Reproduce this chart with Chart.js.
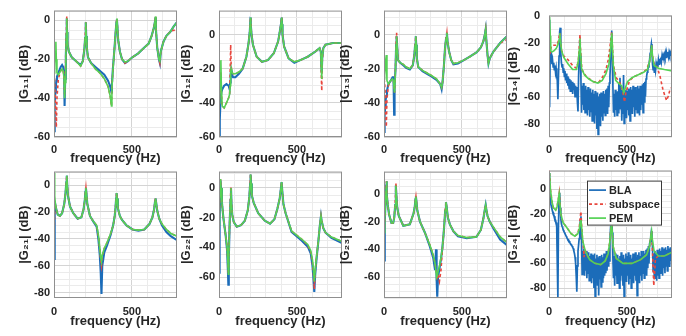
<!DOCTYPE html>
<html><head><meta charset="utf-8">
<script src="https://cdn.jsdelivr.net/npm/chart.js@4.4.0/dist/chart.umd.min.js"></script>
<style>
html,body{margin:0;padding:0;background:#fff;}
body{width:686px;height:336px;position:relative;overflow:hidden;}
canvas{position:absolute;}
</style></head><body>
<script>
// ---------------- data (frequency in Hz, magnitude in dB) ----------------
const XMAX = 790;
const BLA_STEP = 3.8; // frequency spacing of the dense BLA records of G14 and G24

const f11 = [0,3,6,9,12,15,19,28,43,52,59,65,68,72,76,80,82,84,87,95,114,142,171,185,195,200,204,207,211,218,238,266,294,323,347,361,369,372,378,388,395,401,404,407,412,423,437,456,475,503,541,580,608,627,641,648,652,655,663,674,680,686,703,722,746,770,790];
const bla11 = [-57,-48,-42,-37,-34,-31,-29,-27,-24,-23,-24,-27,-44,-30,-18,-7,1,-6,-12,-16,-19,-21,-23,-21,-15,-9,-1,-8,-14,-19,-22,-24,-26,-28,-31,-34,-37,-33,-25,-15,-7,-1,0.5,-3,-10,-16,-20,-22,-21,-19,-17,-14,-12,-8,-4,-1,1.5,-5,-14,-20,-22,-16,-11,-8,-6,-3,-1];
const sub11 = [-27,-30,-35,-42,-48,-55,-40,-30,-26,-25,-26,-30,-38,-30,-16,-5,2,-5,-12,-16,-19,-21,-23.5,-21,-15,-9,-1,-8,-14,-19,-22,-25,-27,-30,-34,-39,-44,-35,-26,-15,-7,-1,1,-3,-10,-16,-20,-22,-21,-19,-17,-14,-12,-8,-4,-1,2,-5,-14,-20,-22,-16,-11,-8,-6,-5,-6];
const pem11 = [-27,-25,-22,-16,-11,-20,-27,-28,-26,-25,-26,-30,-40,-32,-18,-7,1,-6,-12,-16,-19,-21,-23.5,-21,-15,-9,-1,-8,-14,-19,-22,-25,-27,-30,-34,-39,-44,-35,-26,-15,-7,-1,1,-3,-10,-16,-20,-21.5,-21,-19,-17,-14,-12,-8,-4,-1,2,-5,-14,-20,-21,-16,-11,-8,-6,-3,-1];

const f12 = [0,5,9,12,15,21,33,48,62,68,72,75,78,82,90,105,128,152,176,190,198,201,203,205,209,218,242,276,314,352,380,391,398,401,403,405,408,418,447,484,522,570,618,646,654,657,660,663,670,684,732,790];
const bla12 = [-59,-50,-40,-36,-34,-32,-30,-29,-30,-32,-28,-23,-21,-23,-25,-25,-23,-20,-13,-5,2,7,10,6,0,-6,-13,-16,-15,-11,-4,2,6,9,10,6,0,-7,-14,-16.5,-15,-13,-10,-8,-10,-18,-22,-14,-8,-6,-5,-5];
const sub12 = [-40,-34,-27,-22,-35,-42,-43,-40,-37,-35,-20,-6,-18,-22,-23,-23,-22,-20,-13,-5,2,7,10,6,0,-6,-13,-16,-15,-11,-4,2,6,9,10,6,0,-7,-14,-16,-15,-13,-10,-8,-10,-24,-33,-16,-8,-6,-5,-5];
const pem12 = [-40,-33,-25,-15,-30,-42,-43,-40,-37,-35,-30,-22,-20,-22,-23,-23,-22,-20,-13,-5,2,7,10,6,0,-6,-13,-16,-15,-11,-4,2,6,9,10,6,0,-7,-14,-16,-15,-13,-10,-8,-10,-20,-26,-14,-8,-6,-5,-5];

const f13 = [0,4,8,11,15,19,28,43,55,61,65,68,74,78,81,84,90,104,124,142,166,185,195,200,204,207,211,220,247,276,304,337,361,370,376,385,392,399,404,408,418,432,446,475,513,551,594,622,638,648,653,657,665,671,679,703,746,790];
const bla13 = [-57,-47,-42,-38,-36,-33,-29,-27,-25,-25,-47,-30,-20,-6,-1,-6,-15,-16.5,-18,-19.5,-20.5,-18,-12,-6,-1,-6,-14,-19,-21.5,-23,-24.5,-26.5,-29,-32,-28,-18,-8,-2,1,-4,-10,-15,-17.5,-17,-15,-13,-10.5,-7.5,-4,0,3,-3,-12,-17,-14,-10,-5,-1];
const sub13 = [-26,-28,-35,-45,-54,-38,-30,-27,-26,-27,-32,-34,-18,-4,1,-5,-15,-16.5,-17.5,-19,-20,-18,-12,-6,-1,-6,-14,-19,-21,-22.5,-24,-26,-29,-31,-28,-18,-8,-2,1,-4,-10,-15,-17,-16.5,-15,-13,-10.5,-7.5,-4,0,3,-3,-12,-17,-14,-10,-5,-3];
const pem13 = [-26,-24,-20,-15,-12,-27,-29,-27,-26,-27,-32,-34,-20,-6,-1,-6,-15,-16.5,-17.5,-19,-20,-18,-12,-6,-1,-6,-14,-19,-21,-22.5,-24,-26,-29,-31,-28,-18,-8,-2,1,-4,-10,-15,-17,-16.5,-15,-13,-10.5,-7.5,-4,0,3,-3,-12,-17,-14,-10,-5,-1];

const bla14 = [
 -3,-68,-27,-32,-30,-36,-33,-38,-35,-40,
 -37,-42,-39,-45,-48,-62,-45,-30,-12,-9,
 -28,-35,-38,-36,-42,-39,-45,-41,-48,-43,
 -50,-45,-52,-46,-54,-47,-56,-48,-53,-49,
 -58,-50,-55,-51,-60,-52,-57,-53,-64,-71,
 -45,-32,-18,-30,-48,-72,-52,-66,-50,-70,
 -54,-72,-52,-68,-55,-74,-53,-70,-56,-75,
 -54,-71,-57,-78,-55,-72,-58,-80,-56,-74,
 -59,-84,-57,-88,-60,-76,-58,-82,-57,-75,
 -60,-78,-56,-72,-58,-74,-55,-70,-54,-73,
 -52,-68,-50,-45,-35,-20,-11,-30,-52,-72,
 -58,-75,-55,-70,-57,-74,-56,-72,-50,-69,
 -46,-66,-55,-78,-58,-73,-44,-80,-57,-72,
 -55,-76,-56,-70,-54,-74,-55,-78,-53,-70,
 -55,-73,-52,-68,-54,-75,-53,-70,-55,-72,
 -52,-69,-54,-74,-52,-70,-53,-66,-51,-72,
 -50,-64,-49,-60,-47,-45,-42,-40,-38,-36,
 -33,-28,-24,-21,-26,-36,-40,-35,-42,-38,
 -41,-36,-39,-34,-38,-33,-36,-32,-35,-31,
 -34,-30,-33,-30,-32,-29,-31,-28,-31,-28,
 -30,-27,-30,-27,-29,-27,-28,-27];
const fs14 = [0,8,14,24,38,52,62,67,70,73,81,95,124,152,176,188,195,199,202,211,238,285,323,347,366,380,391,399,403,407,414,432,456,475,485,494,518,551,589,627,646,654,659,665,675,694,713,732,746,755,765,777,790];
const sub14 = [-25,-27,-23,-22,-22,-22,-18,-14,-13,-18,-26,-30,-33,-37,-39,-34,-22,-14,-24,-40,-45,-49,-49,-45,-40,-33,-24,-15,-12,-22,-37,-46,-50,-57,-64,-57,-48,-45,-43,-40,-34,-28,-22,-30,-36,-38,-45,-55,-60,-63,-60,-55,-53];
const f14 = [0,3,5,8,11,19,33,48,59,65,68,70,73,81,95,124,152,176,188,195,199,202,209,228,256,285,314,342,366,385,394,400,403,406,413,428,446,466,480,489,504,532,570,608,632,646,654,659,665,675,703,741,790];
const pem14 = [-20,-5,-1,-15,-26,-27,-26,-24,-21,-18,-14,-13,-18,-26,-31,-36,-40,-40,-34,-25,-17,-26,-39,-44,-47,-49,-50,-48,-43,-36,-27,-16,-13,-20,-37,-48,-50,-52,-57,-54,-49,-46,-44,-42,-40,-34,-28,-22,-30,-37,-39,-40,-41];

const f21 = [0,3,6,9,15,24,38,52,66,74,79,82,85,90,103,124,152,176,190,198,202,205,208,214,231,252,274,285,294,300,305,310,323,340,364,380,390,395,399,402,405,410,423,437,466,504,542,580,613,632,643,649,652,656,663,676,694,722,750,790];
const bla21 = [-55,-20,-12,-15,-18,-22,-23,-21,-14,-6,2,7,0,-8,-16,-21,-25,-24,-18,-11,-5,-2,-6,-14,-23,-27,-31,-40,-52,-65,-81,-60,-50,-45,-37,-30,-23,-17,-10,-6,-10,-17,-23,-26,-30,-33,-34,-33,-29,-24,-18,-12,-10,-13,-19,-25,-30,-35,-38,-41];
const sub21 = [-38,-25,-12,-15,-18,-22,-23,-21,-14,-6,2,7,0,-8,-16,-21,-25,-24,-18,-11,-5,-2,-6,-14,-23,-27,-30,-38,-48,-56,-60,-53,-47,-43,-36,-30,-23,-17,-10,-6,-10,-17,-23,-26,-30,-33,-33.5,-33,-29,-24,-18,-12,-10,-13,-19,-25,-29,-33,-36,-38];
const pem21 = [9,0,-8,-14,-18,-22,-23,-21,-14,-6,2,7,0,-8,-16,-21,-25,-24,-18,-11,-5,-2,-6,-14,-23,-27,-30,-37,-47,-54,-57,-52,-47,-43,-36,-30,-23,-17,-10,-6,-10,-17,-23,-26,-30,-33,-33.5,-33,-29,-24,-18,-12,-10,-13,-19,-25,-29,-33,-36,-38];

const f22 = [0,4,8,10,13,19,28,43,52,57,60,63,68,74,77,80,85,95,114,142,166,185,195,200,203,206,211,223,252,294,328,356,375,390,397,402,407,414,428,466,532,570,589,600,606,612,618,627,638,648,655,659,670,684,722,790];
const bla22 = [-57,-20,-2,5,0,-10,-20,-32,-42,-55,-65,-48,-25,-8,0,-10,-18,-23,-26,-25,-22,-15,-6,3,9,3,-5,-10,-17,-22,-24,-21,-14,-7,-1,4,-3,-11,-17,-29.5,-35.5,-39.5,-44,-52,-60,-70,-58,-47,-36,-25,-19,-22,-27,-30,-33.5,-37];
const sub22 = [-25,-10,0,6,0,-10,-20,-32,-40,-50,-58,-45,-25,-6,1,-10,-18,-23,-26,-25,-22,-15,-6,3,9,3,-5,-10,-17,-22,-24,-21,-14,-7,-1,4,-3,-11,-17,-29,-34.5,-38.5,-43,-50,-57,-68,-56,-46,-36,-25,-19,-22,-27,-30,-33,-36];
const pem22 = [-25,-10,0,6,0,-10,-20,-32,-40,-50,-58,-45,-25,-8,0,-10,-18,-23,-26,-25,-22,-15,-6,3,9,3,-5,-10,-17,-22,-24,-21,-14,-7,-1,4,-3,-11,-17,-29,-34.5,-38,-42,-48,-54,-63,-55,-46,-36,-25,-19,-22,-27,-30,-33,-36];

const f23 = [0,5,9,13,16,19,24,33,48,59,66,72,75,77,80,85,95,124,166,190,198,202,205,208,214,231,263,295,316,328,334,338,342,347,356,366,374,382,388,393,398,403,410,423,446,475,532,594,622,638,648,653,657,665,679,703,746,790];
const bla23 = [-48,-20,-8,2,9,0,-8,-15,-21,-21,-17,-8,0,6,-2,-10,-16,-23,-22,-14,-9,-4,-2,-5,-12,-20,-28,-38,-46,-55,-40,-62,-74,-60,-54,-47,-40,-30,-21,-12,-6,-10,-17,-22,-27,-30.5,-32,-31,-26,-18,-11,-8,-11,-16,-20,-25,-33,-37];
const sub23 = [-28,-18,-8,2,9,0,-8,-15,-21,-21,-17,-6,2,8,-2,-10,-16,-23,-22,-14,-9,-4,-2,-5,-12,-20,-28,-37,-44,-50,-55,-58,-60,-58,-63,-55,-42,-30,-21,-12,-6,-10,-17,-22,-27,-30,-31.5,-31,-26,-18,-11,-8,-11,-16,-20,-24,-31,-35];
const pem23 = [-28,-18,-8,2,9,0,-8,-15,-21,-21,-17,-8,0,6,-2,-10,-16,-23,-22,-14,-9,-4,-2,-5,-12,-20,-28,-37,-44,-50,-56,-60,-59,-56,-52,-46,-40,-30,-21,-12,-6,-10,-17,-22,-27,-30,-31.5,-31,-26,-18,-11,-8,-11,-16,-20,-24,-31,-35];

const bla24 = [
 13,5,-8,-12,-14,-16,-18,-19,-21,-22,
 -24,-25,-27,-30,-60,-88,-30,-6,-3,-15,
 -24,-28,-30,-31,-33,-34,-35,-36,-37,-38,
 -39,-40,-41,-41,-42,-43,-44,-44,-45,-46,
 -47,-48,-50,-52,-55,-60,-70,-83,-62,-50,
 -45,-40,-32,-25,-22,-40,-69,-50,-62,-48,
 -70,-52,-66,-50,-72,-53,-68,-51,-74,-54,
 -70,-52,-76,-53,-72,-55,-80,-52,-87,-56,
 -74,-53,-78,-55,-86,-54,-73,-56,-79,-53,
 -75,-55,-72,-52,-70,-54,-68,-50,-66,-52,
 -62,-48,-58,-42,-32,-24,-21,-35,-56,-72,
 -54,-78,-52,-70,-55,-76,-53,-72,-56,-80,
 -54,-74,-51,-70,-55,-78,-53,-87,-56,-72,
 -52,-75,-54,-70,-51,-77,-55,-72,-53,-80,
 -56,-73,-52,-76,-54,-70,-51,-74,-55,-86,
 -53,-72,-51,-76,-54,-70,-50,-74,-53,-68,
 -50,-72,-52,-66,-49,-70,-48,-64,-46,-60,
 -44,-42,-38,-34,-36,-48,-66,-52,-72,-50,
 -68,-52,-74,-49,-70,-51,-72,-48,-68,-50,
 -66,-47,-70,-49,-64,-48,-68,-47,-62,-49,
 -66,-46,-60,-48,-63,-47,-58,-49];
const fs24 = [0,3,6,9,19,28,43,52,60,65,66,69,76,90,114,142,166,185,195,201,205,209,215,220,225,230,238,261,294,332,361,380,391,399,402,405,413,432,475,532,589,627,646,655,659,663,668,673,677,684,703,741,790];
const sub24 = [2,12,10,0,-10,-15,-17,-14,-8,-4,-3,-8,-20,-27,-31,-36,-38,-36,-30,-22,-18,-28,-40,-45,-55,-48,-52,-57,-60,-61,-58,-52,-42,-28,-24,-33,-47,-56,-60,-60,-57,-53,-46,-37,-34,-45,-62,-78,-70,-56,-54,-54,-51];
const f24 = [0,3,6,9,19,28,43,52,60,65,66,69,76,90,114,142,166,185,195,201,205,209,217,233,261,294,332,361,380,391,399,402,405,413,432,475,532,589,627,646,655,659,663,675,703,741,790];
const pem24 = [2,13,10,0,-10,-15,-17,-14,-8,-4,-3,-8,-20,-27,-31,-36,-38,-36,-32,-27,-25,-30,-42,-50,-57,-60,-61,-58,-52,-42,-30,-27,-33,-47,-56,-60,-60,-57,-53,-46,-37,-34,-40,-50,-54,-54,-51];

const seriesNames = ['BLA', 'subspace', 'PEM'];
const xTickLabels = [0, 500];

// ---------------- panels ----------------
const denseX = arr => arr.map((_, i) => +(i * BLA_STEP).toFixed(2));
const panels = [
  {lab:'|G\u2081\u2081| (dB)', fb:f11, bla:bla11, fs:f11, sub:sub11, fp:f11, pem:pem11, ymin:-60, ymax:5,  col:0, row:0},
  {lab:'|G\u2081\u2082| (dB)', fb:f12, bla:bla12, fs:f12, sub:sub12, fp:f12, pem:pem12, ymin:-60, ymax:14, col:1, row:0},
  {lab:'|G\u2081\u2083| (dB)', fb:f13, bla:bla13, fs:f13, sub:sub13, fp:f13, pem:pem13, ymin:-60, ymax:14, col:2, row:0},
  {lab:'|G\u2081\u2084| (dB)', fb:denseX(bla14), bla:bla14, fs:fs14, sub:sub14, fp:f14, pem:pem14, ymin:-90, ymax:0, col:3, row:0, ypad:9, dense:true},
  {lab:'|G\u2082\u2081| (dB)', fb:f21, bla:bla21, fs:f21, sub:sub21, fp:f21, pem:pem21, ymin:-84, ymax:10, col:0, row:1},
  {lab:'|G\u2082\u2082| (dB)', fb:f22, bla:bla22, fs:f22, sub:sub22, fp:f22, pem:pem22, ymin:-74, ymax:11, col:1, row:1},
  {lab:'|G\u2082\u2083| (dB)', fb:f23, bla:bla23, fs:f23, sub:sub23, fp:f23, pem:pem23, ymin:-75, ymax:16, col:2, row:1},
  {lab:'|G\u2082\u2084| (dB)', fb:denseX(bla24), bla:bla24, fs:fs24, sub:sub24, fp:f24, pem:pem24, ymin:-88, ymax:15, col:3, row:1, ypad:3, legend:true, dense:true},
];

// ---------------- layout / style ----------------
const PLOT_LEFT = [54, 219, 384, 549];
const YTITLE_C = [25, 187, 346, 514];
const PLOT_W = 123, PLOT_H = 129, PAD_TOP = 8, PAD_RIGHT = 3;
const ROW_TOP = [0, 161];
const XAX_H = [30, 32];
const XPAD = [6, 7];
const C_BLA = '#1b6cb9', C_SUB = '#e8473e', C_PEM = '#55d255';
const TXT = '#262626';
const FONT = '"Liberation Sans", Arial, Helvetica, sans-serif';
Chart.defaults.font.family = FONT;
Chart.defaults.color = TXT;

const boxPlugin = {
  id: 'axbox',
  afterDatasetsDraw(chart) {
    const a = chart.chartArea, ctx = chart.ctx;
    ctx.save();
    ctx.strokeStyle = '#8f8f8f'; ctx.lineWidth = 1;
    ctx.strokeRect(a.left + 0.5, a.top + 0.5, a.right - a.left - 1, a.bottom - a.top - 1);
    ctx.restore();
  }
};
const legendPlugin = {
  id: 'inlegend',
  afterDatasetsDraw(chart) {
    const a = chart.chartArea, ctx = chart.ctx;
    const x = a.left + 38, y = a.top + 10, w = 75, h = 45;
    ctx.save();
    ctx.fillStyle = '#fff'; ctx.fillRect(x, y, w, h);
    ctx.strokeStyle = '#3a3a3a'; ctx.lineWidth = 1; ctx.strokeRect(x + 0.5, y + 0.5, w - 1, h - 1);
    chart.data.datasets.forEach((ds, i) => {
      const yy = y + 9.5 + i * 14;
      ctx.setLineDash(ds.borderDash || []);
      ctx.strokeStyle = ds.borderColor; ctx.lineWidth = 1.7;
      ctx.beginPath(); ctx.moveTo(x + 2, yy); ctx.lineTo(x + 19, yy); ctx.stroke();
      ctx.setLineDash([]);
      ctx.fillStyle = TXT; ctx.font = 'bold 11px ' + FONT; ctx.textBaseline = 'middle'; ctx.textAlign = 'left';
      ctx.fillText(ds.label, x + 22, yy + 0.5);
    });
    ctx.restore();
  }
};

const pts = (xs, ys) => ys.map((y, i) => ({x: xs[i], y}));

panels.forEach(p => {
  const cLeft = YTITLE_C[p.col] - 9;
  const W = PLOT_LEFT[p.col] - cLeft;
  const cw = W + PLOT_W + PAD_RIGHT;
  const ch = PAD_TOP + PLOT_H + XAX_H[p.row];
  const cv = document.createElement('canvas');
  cv.width = cw; cv.height = ch;
  cv.style.left = cLeft + 'px'; cv.style.top = ROW_TOP[p.row] + 'px';
  cv.style.width = cw + 'px'; cv.style.height = ch + 'px';
  document.body.appendChild(cv);

  const yt = [];
  for (let v = Math.ceil(p.ymin / 5) * 5; v <= p.ymax; v += 5) yt.push(v);
  const xt = [];
  for (let v = 0; v <= XMAX; v += 100) xt.push(v);

  new Chart(cv, {
    type: 'scatter',
    data: { datasets: [
      {label: seriesNames[0], data: pts(p.fb, p.bla), showLine: true, borderColor: C_BLA, borderWidth: p.dense ? 1.7 : 2.1, pointRadius: 0, order: 3},
      {label: seriesNames[1], data: pts(p.fs, p.sub), showLine: true, borderColor: C_SUB, borderWidth: 1.6, borderDash: [3, 2.5], pointRadius: 0, order: 2},
      {label: seriesNames[2], data: pts(p.fp, p.pem), showLine: true, borderColor: C_PEM, borderWidth: 1.6, pointRadius: 0, order: 1},
    ]},
    options: {
      responsive: false, animation: false, events: [], devicePixelRatio: 1,
      layout: {padding: {top: PAD_TOP, right: PAD_RIGHT, left: 0, bottom: 0}},
      plugins: {legend: {display: false}, tooltip: {enabled: false}},
      scales: {
        x: {
          type: 'linear', min: 0, max: XMAX,
          afterBuildTicks: s => { s.ticks = xt.map(v => ({value: v})); },
          afterFit: s => { s.height = XAX_H[p.row]; },
          ticks: {autoSkip: false, maxRotation: 0, padding: XPAD[p.row], font: {size: 11, weight: 'bold'}, color: TXT,
                  callback: v => xTickLabels.includes(v) ? String(v) : ''},
          grid: {drawTicks: false, lineWidth: 1, color: c => (c.tick && xTickLabels.includes(c.tick.value)) ? '#d4d4d4' : '#ebebeb'},
          border: {display: false},
          title: {display: true, text: 'frequency (Hz)', font: {size: 13, weight: 'bold'}, color: TXT, padding: {top: 0, bottom: 1}}
        },
        y: {
          type: 'linear', min: p.ymin, max: p.ymax,
          afterBuildTicks: s => { s.ticks = yt.map(v => ({value: v})); },
          afterFit: s => { s.width = W; },
          ticks: {autoSkip: false, padding: p.ypad || 4, font: {size: 11, weight: 'bold'}, color: TXT,
                  callback: v => (v % 20 === 0) ? String(v) : ''},
          grid: {drawTicks: false, lineWidth: 1, color: c => (c.tick && c.tick.value % 20 === 0) ? '#d4d4d4' : '#ebebeb'},
          border: {display: false},
          title: {display: true, text: p.lab, font: {size: 13, weight: 'bold'}, color: TXT, padding: {top: 1, bottom: 0}}
        }
      }
    },
    plugins: p.legend ? [boxPlugin, legendPlugin] : [boxPlugin]
  });
});
</script>
</body></html>
